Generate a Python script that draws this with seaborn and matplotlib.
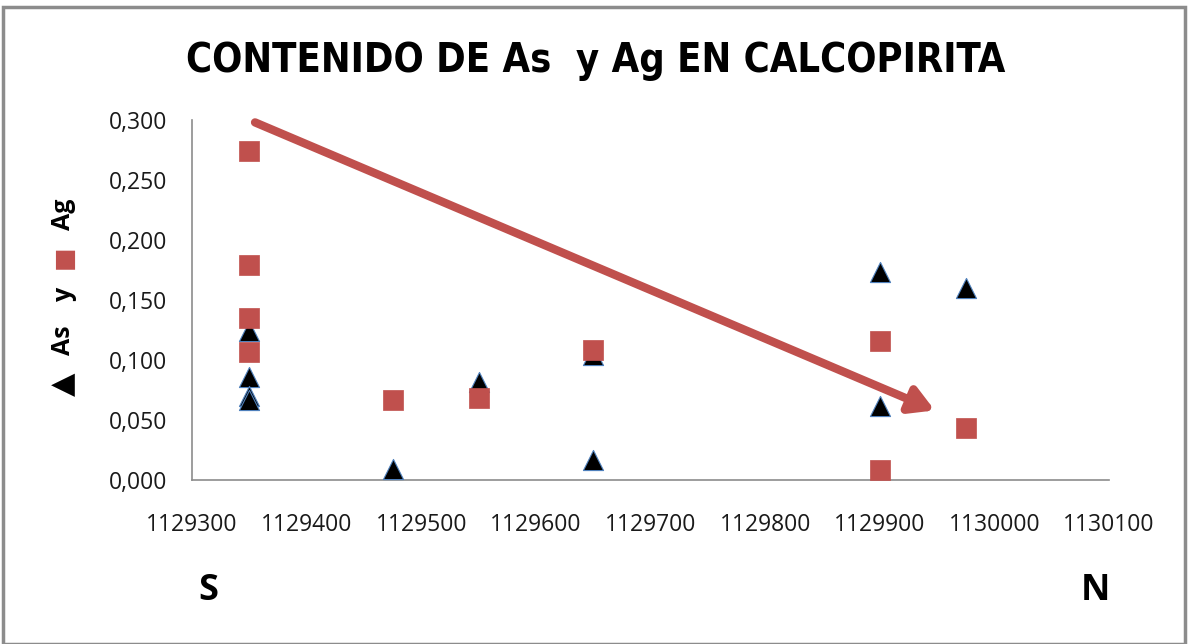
import matplotlib
matplotlib.use("Agg")
import matplotlib.pyplot as plt
from matplotlib.patches import Rectangle
from matplotlib.ticker import FuncFormatter
import pandas as pd
import seaborn as sns

# data (position S->N, content)
as_x = [1129350, 1129350, 1129350, 1129350, 1129475, 1129550, 1129650, 1129650, 1129900, 1129900, 1129975]
as_y = [0.124, 0.086, 0.070, 0.067, 0.009, 0.082, 0.104, 0.017, 0.173, 0.062, 0.160]
ag_x = [1129350, 1129350, 1129350, 1129350, 1129475, 1129550, 1129650, 1129900, 1129900, 1129975]
ag_y = [0.274, 0.179, 0.135, 0.107, 0.067, 0.068, 0.108, 0.116, 0.008, 0.043]

x_ticks = [1129300, 1129400, 1129500, 1129600, 1129700, 1129800, 1129900, 1130000, 1130100]
y_ticks = [0.0, 0.05, 0.10, 0.15, 0.20, 0.25, 0.30]

df_as = pd.DataFrame({"pos": as_x, "val": as_y})
df_ag = pd.DataFrame({"pos": ag_x, "val": ag_y})

sns.set_style("white")
plt.rcParams["font.family"] = ["Open Sans", "DejaVu Sans"]

fig = plt.figure(figsize=(11.89, 6.44), dpi=100)
ax = fig.add_axes([192/1189, 1-480/644, (1109-192)/1189, 360/644])

red = "#C0504D"
sns.scatterplot(data=df_as, x="pos", y="val", marker="^", s=210, color="black",
                edgecolor="#4F81BD", linewidth=0.8, ax=ax, zorder=3)
sns.scatterplot(data=df_ag, x="pos", y="val", marker="s", s=200, color=red,
                edgecolor=red, linewidth=0.5, ax=ax, zorder=4)

# trend arrow S -> N
ax.annotate("", xy=(1129948, 0.058), xytext=(1129355, 0.298),
            arrowprops=dict(arrowstyle="-|>,head_length=1.4,head_width=0.8",
                            color=red, lw=6, shrinkA=0, shrinkB=0),
            zorder=5)

ax.set_xlim(1129300, 1130100)
ax.set_ylim(0, 0.3)
ax.set_xticks(x_ticks)
ax.set_yticks(y_ticks)
ax.yaxis.set_major_formatter(FuncFormatter(lambda v, p: f"{v:.3f}".replace(".", ",")))
ax.xaxis.set_major_formatter(FuncFormatter(lambda v, p: f"{int(v)}"))
ax.tick_params(axis="both", length=0, labelsize=16.5, colors="#1a1a1a")
ax.tick_params(axis="x", pad=24)
ax.tick_params(axis="y", pad=18)
ax.set_xlabel("")
ax.set_ylabel("")
for side in ["top", "right"]:
    ax.spines[side].set_visible(False)
for side in ["left", "bottom"]:
    ax.spines[side].set_color("#8C8C8C")
    ax.spines[side].set_linewidth(1.2)

fig.text(596/1189, 1-61/644, "CONTENIDO DE As  y Ag EN CALCOPIRITA", ha="center", va="center",
         fontsize=28.5, fontweight="bold", fontstretch="condensed",
         family=["DejaVu Sans"], color="black")

# y label built from pieces so the square can be red
lx = 64/1189
for txt, ypx, col, fs in [("▲", 384, "black", 22), ("As", 340, "black", 18), ("y", 294, "black", 18),
                          ("■", 257, red, 18), ("Ag", 214, "black", 18)]:
    fig.text(lx, 1-ypx/644, txt, rotation=90, ha="center", va="center", color=col,
             fontsize=fs, fontweight="bold", family=["Open Sans", "DejaVu Sans"])

fig.text(208/1189, 1-591/644, "S", ha="center", va="center", fontsize=26, fontweight="bold", color="black")
fig.text(1095/1189, 1-591/644, "N", ha="center", va="center", fontsize=26, fontweight="bold", color="black")

fig.patches.append(Rectangle((3/1189, 0), 1182/1189, 1-7/644, transform=fig.transFigure,
                             fill=False, edgecolor="#8C8C8C", linewidth=2.5))

fig.savefig("out.png", dpi=100, facecolor="white")
plt.close(fig)
